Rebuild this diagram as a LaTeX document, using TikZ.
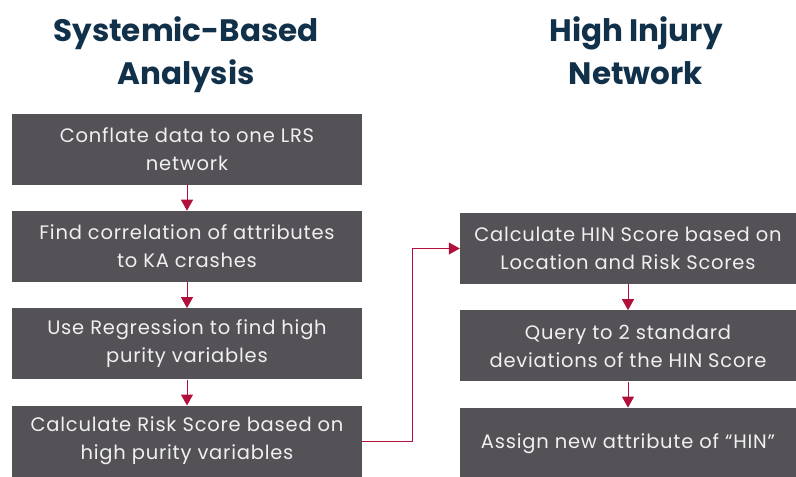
\documentclass[tikz,border=0pt]{standalone}
\usepackage{fontspec}
\setmainfont{Poppins}
\usepackage{tikz}
\usetikzlibrary{arrows.meta, positioning}
\usepackage{xcolor}
\definecolor{boxgray}{HTML}{545157}
\definecolor{titleblue}{HTML}{11304A}
\definecolor{linkred}{HTML}{B0103C}

\begin{document}
\begin{tikzpicture}[
    x=1pt, y=1pt,
    node distance=26pt,
    every node/.style={font=\fontsize{19.5}{28}\selectfont\addfontfeature{LetterSpace=4}},
    title/.style={align=center, text=titleblue, anchor=north,
                  font=\fontsize{31}{43}\selectfont\bfseries},
    box/.style={fill=boxgray, text=white!94!black, align=center,
                minimum height=71pt, inner sep=0pt},
    lbox/.style={box, minimum width=350pt},
    rbox/.style={box, minimum width=336pt},
    arrow/.style={-{Triangle[length=11pt, width=12pt]}, linkred, line width=1pt}
]
    \useasboundingbox (0,0) rectangle (796,-477);

    % column titles
    \node[title] (systemic) at (186,-13) {Systemic-Based\\Analysis};
    \node[title] (hin) at (636,-13) {High Injury\\Network};

    % systemic-based steps
    \node[lbox] (conflate) at (187,-149) {Conflate data to one LRS\\network};
    \node[lbox, below=of conflate] (corr) {Find correlation of attributes\\to KA crashes};
    \node[lbox, below=of corr] (regress) {Use Regression to find high\\purity variables};
    \node[lbox, below=of regress] (risk) {Calculate Risk Score based on\\high purity variables};

    % high injury network steps
    \node[rbox] (hinscore) at (628,-248.5) {Calculate HIN Score based on\\Location and Risk Scores};
    \node[rbox, below=of hinscore] (query) {Query to 2 standard\\deviations of the HIN Score};
    \node[rbox, below=of query] (assign) {Assign new attribute of ``HIN''};

    \draw[arrow] (conflate) -- (corr);
    \draw[arrow] (corr) -- (regress);
    \draw[arrow] (regress) -- (risk);
    \draw[arrow, line width=0.8pt] (risk.east) -- ++(50,0) |- (hinscore.west);
    \draw[arrow] (hinscore) -- (query);
    \draw[arrow] (query) -- (assign);
\end{tikzpicture}
\end{document}
